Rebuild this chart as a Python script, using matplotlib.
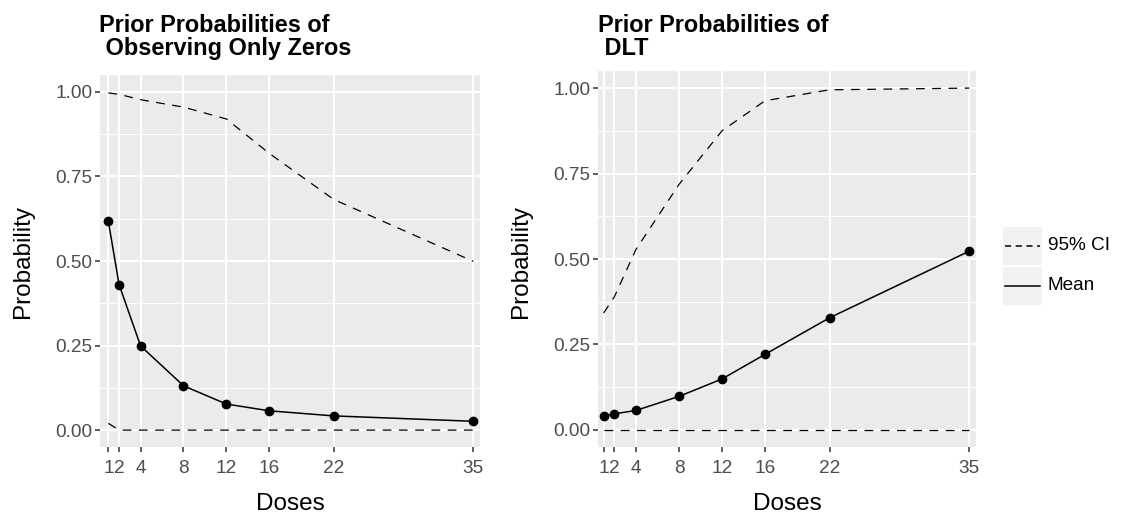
import matplotlib
matplotlib.use("Agg")
import matplotlib.pyplot as plt
from matplotlib.patches import Rectangle
from matplotlib.lines import Line2D

# ---------------- data ----------------
doses = [1, 2, 4, 8, 12, 16, 22, 35]
dose_ticks = [1, 2, 4, 8, 12, 16, 22, 35]
y_ticks = [0.00, 0.25, 0.50, 0.75, 1.00]
y_tick_labels = ["0.00", "0.25", "0.50", "0.75", "1.00"]

zeros_mean = [0.617, 0.430, 0.249, 0.131, 0.077, 0.057, 0.042, 0.026]
zeros_upper = [0.997, 0.993, 0.977, 0.955, 0.920, 0.818, 0.682, 0.499]
zeros_lower = [0.020, 0.000, 0.000, 0.000, 0.000, 0.000, 0.000, 0.000]

dlt_mean = [0.041, 0.047, 0.057, 0.098, 0.149, 0.221, 0.328, 0.523]
dlt_upper = [0.342, 0.390, 0.528, 0.718, 0.875, 0.963, 0.995, 1.000]
dlt_lower = [0.000, 0.000, 0.000, 0.000, 0.000, 0.000, 0.000, 0.000]

titles = ["Prior Probabilities of\n Observing Only Zeros", "Prior Probabilities of\n DLT"]
legend_labels = ["95% CI", "Mean"]

# ---------------- style ----------------
plt.rcParams['font.family'] = ['Liberation Sans', 'DejaVu Sans']
W, H = 1122, 516
DPI = 100
fig = plt.figure(figsize=(W / DPI, H / DPI), dpi=DPI)
fig.patch.set_facecolor("white")

def rect(x0, x1, ytop, ybot):
    return [x0 / W, 1 - ybot / H, (x1 - x0) / W, (ybot - ytop) / H]

PANEL_BG = "#EBEBEB"
TICK_COL = "#4D4D4D"

def style_axes(ax, xlim):
    ax.set_facecolor(PANEL_BG)
    for s in ax.spines.values():
        s.set_visible(False)
    ax.set_xlim(*xlim)
    ax.set_ylim(-0.05, 1.05)
    ax.set_xticks(dose_ticks)
    ax.set_xticklabels([str(d) for d in dose_ticks])
    ax.set_yticks(y_ticks)
    ax.set_yticklabels(y_tick_labels)
    ax.set_yticks([0.125, 0.375, 0.625, 0.875], minor=True)
    ax.grid(which="major", color="white", linewidth=1.5)
    ax.grid(which="minor", axis="y", color="white", linewidth=0.75)
    ax.tick_params(which="major", length=3.6, width=1.1, color="#333333",
                   labelsize=13.7, labelcolor=TICK_COL, pad=2)
    ax.tick_params(axis="x", which="major", pad=5.5)
    ax.tick_params(which="minor", length=0)
    ax.set_axisbelow(True)

panels = [
    dict(rect=rect(100, 480, 75, 447), xlim=(0.22, 35.63),
         mean=zeros_mean, upper=zeros_upper, lower=zeros_lower,
         title=titles[0], title_x=99, ylab_x=23),
    dict(rect=rect(598, 976, 71, 447), xlim=(0.47, 35.62),
         mean=dlt_mean, upper=dlt_upper, lower=dlt_lower,
         title=titles[1], title_x=598, ylab_x=521),
]

for p in panels:
    ax = fig.add_axes(p["rect"])
    style_axes(ax, p["xlim"])
    ax.plot(doses, p["upper"], color="black", linewidth=0.9, linestyle=(0, (7, 6)))
    ax.plot(doses, p["lower"], color="black", linewidth=0.9, linestyle=(0, (7, 6)))
    ax.plot(doses, p["mean"], color="black", linewidth=1.1)
    ax.plot(doses, p["mean"], linestyle="none", marker="o", markersize=6,
            color="black")
    r = p["rect"]
    cx = (r[0] + r[2] / 2)
    fig.text(cx, 1 - 510 / H, "Doses", ha="center", va="baseline", fontsize=17.5,
             color="black")
    fig.text(p["ylab_x"] / W, 1 - 261 / H, "Probability", ha="center", va="center",
             rotation=90, fontsize=17.5, color="black")
    fig.text(p["title_x"] / W, 1 - 14 / H, p["title"], ha="left", va="top",
             fontsize=16.9, fontweight="bold", color="black", linespacing=1.0)

# ---------------- legend ----------------
lax = fig.add_axes([0, 0, 1, 1], zorder=5)
lax.set_xlim(0, W)
lax.set_ylim(H, 0)
lax.axis("off")
lax.patch.set_alpha(0)
key_boxes = [(227, 265), (267, 305)]
styles = [(0, (4, 3)), "solid"]
for (yt, yb), lab, ls in zip(key_boxes, legend_labels, styles):
    lax.add_patch(Rectangle((1003, yt), 39, yb - yt, facecolor="#F2F2F2",
                            edgecolor="none"))
    ym = (yt + yb) / 2
    lax.add_line(Line2D([1005, 1040], [ym, ym], color="black", linewidth=1.1,
                        linestyle=ls))
    lax.text(1048, ym, lab, ha="left", va="center", fontsize=13.7, color="black")

fig.savefig("out.png", dpi=DPI, facecolor="white")
